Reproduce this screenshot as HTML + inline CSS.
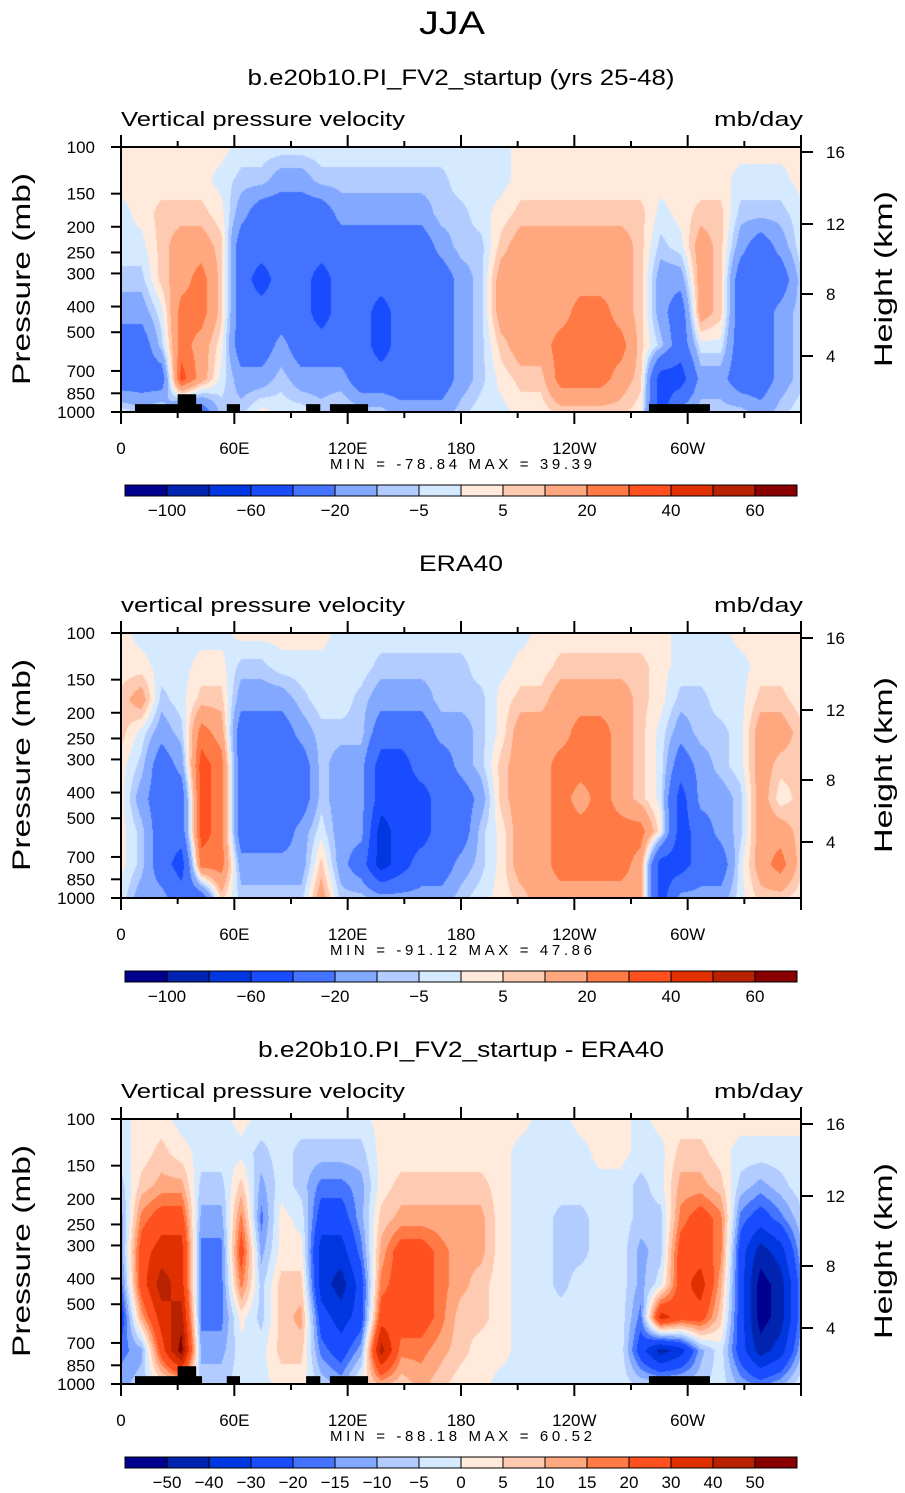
<!DOCTYPE html>
<html><head><meta charset="utf-8">
<style>
html,body{margin:0;padding:0;background:#fff;}
#root{position:relative;width:905px;height:1493px;overflow:hidden;background:#fff;}
canvas{position:absolute;}
svg{position:absolute;left:0;top:0;}
text{font-family:"Liberation Sans",sans-serif;fill:#000;}
</style></head>
<body>
<div id="root">
<canvas id="c1" width="680" height="265" style="left:121px;top:147px"></canvas>
<canvas id="c2" width="680" height="265" style="left:121px;top:633px"></canvas>
<canvas id="c3" width="680" height="265" style="left:121px;top:1119px"></canvas>
<svg id="ov" width="905" height="1493" xmlns="http://www.w3.org/2000/svg"></svg>
</div>
<script>
// ---------- data ----------
const lonTicks = ["0","60E","120E","180","120W","60W"];
const presTicks = [100,150,200,250,300,400,500,700,850,1000];
const heightTicks = ["16","12","8","4"];
const levelsFull = [-100,-80,-60,-40,-20,-10,-5,0,5,10,20,30,40,50,60];
const levelsDiff = [-50,-40,-30,-20,-15,-10,-5,0,5,10,15,20,30,40,50];
const labelsFull = ["-100","-60","-20","-5","5","20","40","60"];
const labelsDiff = ["-50","-40","-30","-20","-15","-10","-5","0","5","10","15","20","30","40","50"];
const palette = ["#00008f","#0024b0","#0037e0","#1a4cff","#4474ff","#82a8ff","#b2ccff","#d6eaff","#ffeadb","#ffcab2","#ffa880","#ff7a45","#ff5020","#e03000","#b82200","#880000"];
const panelTitles = ["b.e20b10.PI_FV2_startup (yrs 25-48)","ERA40","b.e20b10.PI_FV2_startup - ERA40"];
const fieldNames = ["Vertical pressure velocity","vertical pressure velocity","Vertical pressure velocity"];
const minVals = ["-78.84","-91.12","-88.18"];
const maxVals = ["39.39","47.86","60.52"];
// columns (0 to 360 lon), each: values from 100mb (top) to 1000mb (bottom), mb/day
const modelOmega = [
[2,2,-2,-2,-7,-15,-30,-30,-2],[2,2,2,-2,-7,-15,-30,-30,-7],[2,2,7,7,7,-2,-7,-30,-2],
[2,2,7,15,15,25,25,35,-30],[2,2,7,15,25,25,15,15,-30],[2,-2,2,7,7,7,2,-2,-7],
[-2,-7,-15,-30,-30,-30,-30,-15,-7],[-2,-7,-30,-30,-50,-30,-30,-15,2],[-2,-15,-30,-30,-30,-30,-15,-7,-2],
[-2,-15,-30,-30,-30,-30,-30,-15,-2],[-2,-7,-30,-30,-50,-50,-30,-15,-7],[-2,-7,-15,-30,-30,-30,-30,-15,-2],
[-2,-7,-15,-30,-30,-30,-30,-30,-7],[-2,-7,-15,-30,-30,-50,-50,-30,-7],[-2,-7,-15,-30,-30,-30,-30,-30,-15],
[-2,-7,-15,-30,-30,-30,-30,-30,-15],[-2,-7,-7,-15,-30,-30,-30,-30,-15],[-2,-2,-7,-7,-15,-15,-15,-15,-7],
[-2,-2,-2,-7,-7,-7,-7,-7,-2],[-2,-2,2,7,15,15,7,2,-2],[2,2,7,15,15,15,15,7,2],
[2,2,7,15,15,15,15,7,2],[2,2,7,15,15,15,25,25,7],[2,2,7,15,15,25,25,25,7],
[2,2,7,15,15,25,25,25,7],[2,2,7,15,15,15,25,15,7],[2,2,7,7,7,7,7,7,2],
[2,2,-2,-7,-15,-15,-7,-50,-50],[2,2,2,-2,-15,-30,-30,-50,-15],[2,2,7,15,15,15,-2,-15,-7],
[2,2,7,7,7,7,-2,-15,-7],[2,-2,-7,-15,-30,-30,-30,-30,-7],[2,-2,-7,-30,-30,-30,-30,-30,-15],
[2,-2,-7,-15,-30,-15,-15,-15,-7],[2,2,-2,-2,-7,-7,-7,-7,-2]];
const eraOmega = [
[2,2,7,7,2,2,2,2,-2],[-2,2,15,-2,-7,-15,-7,-7,-15],[-2,-2,-7,-15,-30,-30,-30,-30,-15],
[-2,-2,-2,-7,-15,-30,-30,-50,-30],[-2,2,7,25,35,35,35,25,-30],[-2,2,7,15,25,25,25,25,7],
[2,-7,-15,-30,-30,-30,-30,-15,-7],[2,-7,-15,-30,-30,-30,-30,-15,-7],[2,-2,-15,-30,-30,-30,-30,-15,-7],
[2,-2,-7,-15,-30,-30,-15,-15,-7],[2,-2,-2,-7,-7,-7,-2,7,15],[-2,-2,-2,-7,-15,-15,-15,-15,-7],
[-2,-2,-7,-7,-15,-15,-15,-30,-7],[-2,-7,-15,-30,-50,-50,-70,-70,-15],[-2,-7,-15,-30,-50,-50,-50,-50,-15],
[-2,-7,-15,-30,-30,-50,-50,-30,-15],[-2,-7,-7,-15,-30,-30,-30,-30,-15],[-2,-7,-7,-15,-15,-30,-30,-15,-7],
[-2,-2,-7,-7,-7,-15,-7,-7,-2],[-2,-2,2,2,7,7,2,2,2],[-2,2,7,15,15,15,15,15,7],
[2,2,7,15,15,15,15,15,15],[2,7,15,15,25,25,25,25,15],[2,7,15,25,25,15,25,25,15],
[2,7,15,25,25,25,25,25,15],[2,7,15,15,15,15,25,25,15],[2,7,7,7,7,7,25,15,15],
[2,2,2,-2,-2,-2,2,-50,-50],[-2,-2,-7,-15,-30,-50,-50,-50,-15],[-2,-2,-7,-7,-15,-15,-30,-30,-15],
[-2,-2,-2,-7,-7,-15,-15,-30,-15],[2,-2,-2,-2,-2,-7,-7,-2,-2],[2,2,7,15,15,15,15,15,7],
[2,2,7,15,7,2,15,25,7],[2,2,2,7,7,7,7,7,2]];
const diffOmega = [
[-2,-2,-7,-12,-12,-17,-25,-17,-12],[2,2,7,17,25,25,12,-12,-7],[2,7,12,25,35,45,35,25,2],
[-2,2,12,25,35,35,45,55,7],[-2,-2,-7,-12,-17,-17,-17,-12,-7],[-2,-2,-7,-12,-17,-17,-17,-12,-7],
[2,-2,7,17,25,17,2,-2,-2],[-2,-7,-12,-17,-12,-7,-7,-2,-2],[-2,-2,-2,2,2,7,7,7,2],
[-2,-7,-7,-2,2,7,12,7,2],[-2,-7,-17,-25,-35,-35,-25,-17,-7],[-2,-7,-17,-25,-35,-45,-35,-25,-12],
[-2,-7,-12,-12,-17,-25,-25,-12,2],[2,2,2,7,12,17,25,45,12],[2,2,7,12,25,25,25,17,7],
[2,2,7,12,25,25,25,17,12],[2,2,7,12,17,17,17,12,7],[2,2,7,12,12,12,7,7,2],
[2,2,7,12,12,7,7,2,2],[2,2,2,2,2,2,2,2,-2],[2,-2,-2,-2,-2,-2,-2,-2,-2],
[-2,-2,-2,-2,-2,-2,-2,-2,-2],[-2,-2,-2,-7,-7,-7,-2,-2,-2],[2,-2,-2,-7,-7,-2,-2,-2,-2],
[2,2,-2,-2,-2,-2,-2,-2,-2],[2,2,-2,-2,-2,-2,-2,-2,-2],[-2,-2,-7,-7,-12,-12,-17,-25,-7],
[2,-2,-2,-7,-7,-2,35,-45,-7],[2,7,12,17,25,25,25,-35,-7],[2,7,12,25,25,35,25,-12,-7],
[2,2,7,17,17,12,7,-2,-2],[2,-2,-7,-17,-25,-25,-25,-25,-12],[2,-2,-12,-25,-45,-55,-55,-45,-17],
[2,-2,-7,-17,-35,-45,-45,-35,-12],[2,-2,-2,-7,-12,-17,-17,-12,-2]];
// topography blocks (lon start, lon end, top pressure mb)
const topoLon0 = [7.4,56,98,110.6,279.5];
const topoLon1 = [42.9,63,105.5,130.8,311.8];
const topoTopP = [934,934,934,934,934];
const bumpLon0 = 30, bumpLon1 = 39.8, bumpTopP = 857;

// ---------- geometry ----------
const X0=121, W=680, H=265, PT=[147,633,1119];
const lonX = lon => X0 + lon/360*W;
const presY = (p,top) => top + H*Math.log10(p/100);
const NS="http://www.w3.org/2000/svg";
const ov=document.getElementById('ov');
function mk(tag, attrs, parent){const e=document.createElementNS(NS,tag);for(const k in attrs)e.setAttribute(k,attrs[k]);(parent||ov).appendChild(e);return e;}

function drawField(id, data, levels){
  const cv=document.getElementById(id), ctx=cv.getContext('2d');
  const img=ctx.createImageData(W,H);
  const rgb=palette.map(h=>[parseInt(h.substr(1,2),16),parseInt(h.substr(3,2),16),parseInt(h.substr(5,2),16)]);
  const nc=data.length, nr=data[0].length;
  for(let y=0;y<H;y++){
    const fy=y/(H-1)*(nr-1); const j=Math.min(nr-2,Math.floor(fy)); const ty=fy-j;
    for(let x=0;x<W;x++){
      const fx=x/(W-1)*(nc-1); const i=Math.min(nc-2,Math.floor(fx)); const tx=fx-i;
      const v=(data[i][j]*(1-tx)+data[i+1][j]*tx)*(1-ty)+(data[i][j+1]*(1-tx)+data[i+1][j+1]*tx)*ty;
      let k=0; while(k<levels.length && v>=levels[k]) k++;
      const c=rgb[k], o=(y*W+x)*4;
      img.data[o]=c[0];img.data[o+1]=c[1];img.data[o+2]=c[2];img.data[o+3]=255;
    }
  }
  ctx.putImageData(img,0,0);
}
drawField('c1',modelOmega,levelsFull);
drawField('c2',eraOmega,levelsFull);
drawField('c3',diffOmega,levelsDiff);

// main title
let t=mk('text',{x:452,y:34,'text-anchor':'middle','font-size':32,'font-weight':'normal',fill:'#111',textLength:66,lengthAdjust:'spacingAndGlyphs'});
t.textContent="JJA";



for(let p=0;p<3;p++){
  const top=PT[p], off=p*486;
  const g=mk('g',{});
  
  
  const tw=[427,84,406][p];
  t=mk('text',{x:461,y:85+off,'text-anchor':'middle','font-size':22,textLength:tw,lengthAdjust:'spacingAndGlyphs'},g);
  t.textContent=panelTitles[p];
  
  
  t=mk('text',{x:121,y:126+off,'font-size':20,textLength:284,lengthAdjust:'spacingAndGlyphs'},g);
  t.textContent=fieldNames[p];
  
  
  t=mk('text',{x:803,y:126+off,'text-anchor':'end','font-size':20,textLength:89,lengthAdjust:'spacingAndGlyphs'},g);
  t.textContent="mb/day";
  
  
  if(p!==1){
    for(let k=0;k<topoLon0.length;k++){
      const r=mk('rect',{x:lonX(topoLon0[k]),y:presY(topoTopP[k],top),width:lonX(topoLon1[k])-lonX(topoLon0[k]),height:top+H-presY(topoTopP[k],top),fill:'#000'},g);
      
      
    }
    const r=mk('rect',{x:lonX(bumpLon0),y:presY(bumpTopP,top),width:lonX(bumpLon1)-lonX(bumpLon0),height:top+H-presY(bumpTopP,top),fill:'#000'},g);
    
    
  }
  const fr=mk('rect',{x:X0,y:top,width:W,height:H,fill:'none',stroke:'#000','stroke-width':2},g);
  
  
  for(let lon=0;lon<=360;lon+=30){
    const x=lonX(lon), len=(lon%60===0)?12:6;
    mk('line',{x1:x,y1:top,x2:x,y2:top-len,stroke:'#000','stroke-width':2},g);
    mk('line',{x1:x,y1:top+H,x2:x,y2:top+H+len,stroke:'#000','stroke-width':2},g);
  }
  lonTicks.forEach((s,i)=>{
    t=mk('text',{x:lonX(i*60),y:top+H+42,'text-anchor':'middle','font-size':17},g);
    t.textContent=s;
    
    
  });
  presTicks.forEach(pv=>{
    const y=presY(pv,top);
    mk('line',{x1:X0,y1:y,x2:X0-10,y2:y,stroke:'#000','stroke-width':2},g);
    t=mk('text',{x:95,y:y+6,'text-anchor':'end','font-size':17},g);
    t.textContent=String(pv);
    
    
  });
  const hy=[5,77,147,209];
  heightTicks.forEach((s,i)=>{
    const y=top+hy[i];
    mk('line',{x1:801,y1:y,x2:813,y2:y,stroke:'#000','stroke-width':2},g);
    t=mk('text',{x:826,y:y+6,'font-size':17},g);
    t.textContent=s;
    
    
  });
  t=mk('text',{x:0,y:0,'font-size':25,'text-anchor':'middle',transform:`translate(30,${top+132}) rotate(-90)`,textLength:212,lengthAdjust:'spacingAndGlyphs'},g);
  t.textContent="Pressure (mb)";
  
  
  t=mk('text',{x:0,y:0,'font-size':25,'text-anchor':'middle',transform:`translate(892,${top+132}) rotate(-90)`,textLength:176,lengthAdjust:'spacingAndGlyphs'},g);
  t.textContent="Height (km)";
  
  
  t=mk('text',{x:330,y:top+H+57,'font-size':15,textLength:262,lengthAdjust:'spacing','xml:space':'preserve'},g);
  t.textContent="MIN = "+minVals[p]+"   MAX =  "+maxVals[p];
  
  
  const cb=mk('g',{},g);
  
  
  const cy=485+off, bw=42;
  palette.forEach((c,i)=>{
    const r=mk('rect',{x:125+i*bw,y:cy,width:bw,height:11,fill:c,stroke:'#000','stroke-width':1},cb);
    
    
  });
  const labs=p===2?labelsDiff:labelsFull, step=p===2?1:2;
  labs.forEach((s,i)=>{
    t=mk('text',{x:125+bw*(1+i*step),y:cy+31,'text-anchor':'middle','font-size':17},cb);
    t.textContent=s.replace('-','\u2212');
    
    
  });
}
</script>
</body></html>
